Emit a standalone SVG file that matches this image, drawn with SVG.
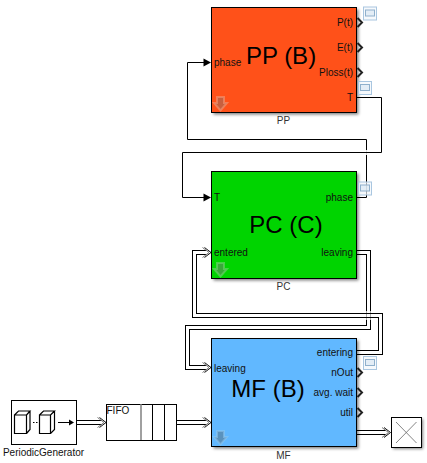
<svg xmlns="http://www.w3.org/2000/svg" width="427" height="463" viewBox="0 0 427 463">
<style>
text{font-family:"Liberation Sans",Arial,sans-serif;fill:#111}
.p{font-size:10px}
.e{text-anchor:end}
.n{font-size:10px;text-anchor:middle;fill:#333}
.t{font-size:24px;text-anchor:middle;fill:#000}
.w{fill:none;stroke:#000;stroke-width:1}
.o{fill:none;stroke:#000;stroke-width:5}
.i{fill:none;stroke:#fff;stroke-width:3}
.b{stroke:#000;stroke-width:1}
.sh{fill:#000;opacity:.5}
</style>
<defs>
<filter id="s" x="-5%" y="-5%" width="115%" height="115%"><feGaussianBlur stdDeviation="1.500"/></filter>
<g id="scope"><rect x="0.500" y="0.500" width="13" height="13" fill="#f2f7fb" fill-opacity=".7" stroke="#a9c6e0"/><rect x="2.500" y="3.500" width="9" height="6" fill="#dbe8f4" fill-opacity=".7" stroke="#8fb0cc"/></g>
<path id="chev" d="M0 -4.500L4.500 0L0 4.500" fill="none" stroke="#222" stroke-width="2"/>
<g id="dh" fill="none"><path d="M-9 -5L-2.500 0L-9 5" stroke="#777"/><path d="M-7 -5L-0.500 0L-7 5" stroke="#111"/></g>
<path id="down" d="M-3.500 -7H3.500V-1H6.500L0 6.500L-6.500 -1H-3.500Z" stroke-width="2" stroke-opacity=".6"/>
</defs>
<g id="connectors">
<path class="w" d="M204 62.500H187.500V139.500H366.500V197.500H357"/>
<path d="M366 150h1v5h-1z" fill="#ddd"/>
<path class="w" d="M357 97.500H381.500V152.500H182.500V197.500H204"/>
<path d="M203.500 193.500L211 197.500L203.500 201.500Z M203.500 58.500L211 62.500L203.500 66.500Z"/>
<path class="o" d="M357 252.500H368.500V327.500H187.500V367.500H206"/>
<path class="i" d="M357 252.500H368.500V327.500H187.500V367.500H206"/>
<path class="o" d="M357 352.500H380.500V315.500H194.500V252.500H206"/>
<path class="i" d="M357 352.500H380.500V315.500H194.500V252.500H206"/>
<path d="M366.500 311V320M370.500 311V320" stroke="#aaa" fill="none"/>
<path d="M364 313.500H373" stroke="#000"/><path d="M364 317.500H373" stroke="#000"/>
<path class="o" d="M77 422.500H102"/><path class="i" d="M77 422.500H102"/>
<path class="o" d="M177 422.500H206"/><path class="i" d="M177 422.500H206"/>
<path class="o" d="M357 432.500H386"/><path class="i" d="M357 432.500H386"/>
<use href="#dh" x="211.500" y="252.500"/><use href="#dh" x="211.500" y="367.500"/><use href="#dh" x="211.500" y="422.500"/><use href="#dh" x="106.500" y="422.500"/><use href="#dh" x="391" y="432.500"/>
</g>
<g id="PP">
<rect class="sh" x="213.500" y="9.500" width="145" height="105" filter="url(#s)"/>
<rect class="b" x="211.500" y="7.500" width="145" height="105" fill="#ff5119"/>
<text class="t" x="281" y="64">PP (B)</text>
<text class="p" x="214" y="66">phase</text>
<text class="p e" x="353" y="26">P(t)</text><text class="p e" x="353" y="51">E(t)</text><text class="p e" x="353" y="76">Ploss(t)</text><text class="p e" x="353" y="101">T</text>
<use href="#chev" x="357.500" y="22.500"/><use href="#chev" x="357.500" y="47.500"/><use href="#chev" x="357.500" y="72.500"/>
<use href="#scope" x="363" y="6.500"/><use href="#scope" x="358" y="81"/>
<use href="#down" x="220.500" y="104" fill="#c8603f" stroke="#f39a78"/>
<text class="n" x="283.500" y="124">PP</text>
</g>
<g id="PC">
<rect class="sh" x="213.500" y="173.500" width="145" height="107" filter="url(#s)"/>
<rect class="b" x="211.500" y="171.500" width="145" height="107" fill="#00d400"/>
<text class="t" x="286" y="233">PC (C)</text>
<text class="p" x="214" y="201">T</text><text class="p e" x="353" y="201">phase</text>
<text class="p" x="214" y="256">entered</text><text class="p e" x="353" y="256">leaving</text>
<use href="#scope" x="358" y="181.500"/>
<use href="#down" x="220.500" y="270" fill="#3aa83a" stroke="#6fd66f"/>
<text class="n" x="283.500" y="290">PC</text>
</g>
<g id="MF">
<rect class="sh" x="213.500" y="340.500" width="145" height="108" filter="url(#s)"/>
<rect class="b" x="211.500" y="338.500" width="145" height="108" fill="#61b8ff"/>
<text class="t" x="268" y="397">MF (B)</text>
<text class="p" x="214" y="372">leaving</text>
<text class="p e" x="353" y="356">entering</text><text class="p e" x="353" y="376">nOut</text><text class="p e" x="353" y="396">avg. wait</text><text class="p e" x="353" y="416">util</text>
<use href="#chev" x="357.500" y="372.500"/><use href="#chev" x="357.500" y="392.500"/><use href="#chev" x="357.500" y="412.500"/>
<use href="#scope" x="363" y="356"/>
<use href="#down" x="220.500" y="438" fill="#5a92bd" stroke="#8cc4ec"/>
<text class="n" x="283.500" y="459">MF</text>
</g>
<g id="PeriodicGenerator">
<rect class="b" x="11.500" y="400.500" width="65" height="44" fill="#fff"/>
<path d="M14.500 415h12v18.500h-12z M14.500 415l4-4h11.500l-3.500 4 M26.500 433.500l3.500-4v-18.500 M39.500 415h11v18.500h-11z M39.500 415l4-4h11l-4 4 M50.500 433.500l4-4v-18.500" fill="none" stroke="#000" stroke-width="1.200"/>
<path d="M33 422.500h1.500M36 422.500h1.500" stroke="#000"/>
<path d="M58 422.500H70" stroke="#000"/><path d="M69 419.500L74 422.500L69 425.500Z"/>
<text class="p" x="43.500" y="456" text-anchor="middle" fill="#333">PeriodicGenerator</text>
</g>
<g id="FIFO">
<rect class="b" x="106.500" y="404.500" width="70" height="36" fill="#fff"/>
<path d="M141 404v36" stroke="#808080" stroke-width="1.500"/><path d="M152.500 404v36M164.500 404v36" stroke="#000"/>
<text class="p" x="106.500" y="414">FIFO</text>
</g>
<g id="Terminator">
<rect class="sh" x="393" y="419" width="30" height="30" filter="url(#s)" opacity=".25"/>
<rect class="b" x="391.500" y="417.500" width="30" height="30" fill="#fff"/>
<path d="M396 422L416.500 443M416.500 422L396 443" stroke="#666" stroke-width=".8"/>
</g>
</svg>
